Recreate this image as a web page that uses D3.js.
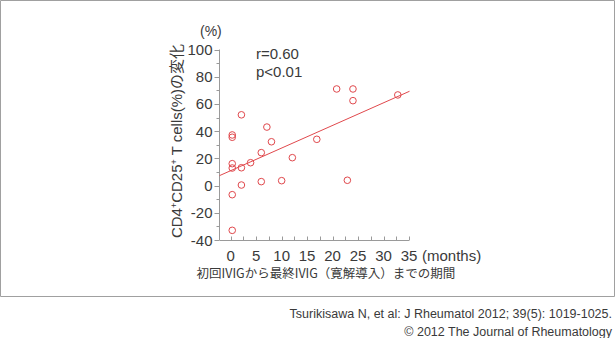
<!DOCTYPE html>
<html><head><meta charset="utf-8">
<script src="https://cdn.jsdelivr.net/npm/d3@7/dist/d3.min.js"></script>
<style>
html,body{margin:0;padding:0;background:#fff;}
svg{display:block;}
text{font-family:"Liberation Sans",Arial,"Noto Sans CJK JP",sans-serif;fill:#3a3a3a;}
.jp{font-family:"Noto Sans CJK JP","Liberation Sans",sans-serif;}
</style></head>
<body>
<script>
// Data
const monthsX = [20.8, 24.0, 24.0, 32.8, 2.1, 0.3, 0.3, 7.1, 8.0, 16.9, 6.0, 12.1, 3.9, 0.3, 0.3, 2.1, 2.1, 6.0, 10.0, 22.9, 0.3, 0.3];
const changeY = [71, 71, 62.4, 66.6, 52, 37.2, 35.5, 43, 32.2, 34, 24.2, 20.5, 16.8, 16.1, 12.9, 13.1, 0.4, 2.9, 3.6, 3.9, -6.7, -32.9];
const fitX = [-2.2, 35.1];
const fitY = [7.3, 69.3];
const xTicks = [0, 5, 10, 15, 20, 25, 30, 35];
const yTicks = [-40, -20, 0, 20, 40, 60, 80, 100];
const xMinorTicks = d3.range(0, 35.01, 2.5);
const yMinorTicks = d3.range(-40, 100.01, 10);
const statLines = ["r=0.60", "p<0.01"];
const xTitle = "初回IVIGから最終IVIG（寛解導入）までの期間";
const citation = ["Tsurikisawa N, et al: J Rheumatol 2012; 39(5): 1019-1025.", "© 2012 The Journal of Rheumatology"];

const W = 616, H = 338;
const svg = d3.select("body").append("svg").attr("width", W).attr("height", H);

// frame
svg.append("path").attr("d", "M0.5,296.5 L0.5,0.5 L614.5,0.5 L614.5,296.5 Z")
  .attr("fill", "none").attr("stroke", "#a0a0a0").attr("stroke-width", 1);

const x = d3.scaleLinear().domain([-2.2, 35]).range([219.5, 409]);
const y = d3.scaleLinear().domain([-40, 100]).range([240, 49.5]);
const axisColor = "#9a9a9a";

// x axis
const gx = svg.append("g").attr("transform", "translate(0,240.5)");
gx.append("line").attr("x1", x(-2.2)).attr("x2", x(35)).attr("stroke", axisColor);
gx.selectAll("line.t").data(xMinorTicks).join("line").attr("class", "t")
  .attr("x1", d => Math.round(x(d)) + 0.5).attr("x2", d => Math.round(x(d)) + 0.5)
  .attr("y1", 0).attr("y2", -4).attr("stroke", axisColor);
gx.selectAll("text").data(xTicks).join("text")
  .attr("x", d => x(d)).attr("y", 20).attr("text-anchor", "middle")
  .style("font-size", "15px").text(d => d);
gx.append("text").attr("x", 422).attr("y", 20).style("font-size", "15px").text("(months)");

// y axis
const gy = svg.append("g").attr("transform", "translate(219.5,0)");
gy.append("line").attr("y1", y(-40)).attr("y2", y(100)).attr("stroke", axisColor);
gy.selectAll("line.t").data(yMinorTicks).join("line").attr("class", "t")
  .attr("y1", d => Math.round(y(d)) + 0.5).attr("y2", d => Math.round(y(d)) + 0.5)
  .attr("x1", 0).attr("x2", d => (d % 20 === 0 ? -5 : -3)).attr("stroke", axisColor);
gy.selectAll("text").data(yTicks).join("text")
  .attr("x", -7).attr("y", d => y(d) + 5.5).attr("text-anchor", "end")
  .style("font-size", "15px").text(d => d);
svg.append("text").attr("x", 200).attr("y", 36).style("font-size", "14px").text("(%)");

// y title
const yt = svg.append("text").attr("transform", "translate(182,141) rotate(-90)")
  .attr("text-anchor", "middle").style("font-size", "15px");
yt.append("tspan").text("CD4");
yt.append("tspan").attr("dy", -5).style("font-size", "9px").text("+");
yt.append("tspan").attr("dy", 5).text("CD25");
yt.append("tspan").attr("dy", -5).style("font-size", "9px").text("+");
yt.append("tspan").attr("dy", 5).text(" T cells(%)");
yt.append("tspan").attr("class", "jp").text("の変化");

// x title
svg.append("text").attr("class", "jp").attr("x", 326).attr("y", 278)
  .attr("text-anchor", "middle").style("font-size", "12.5px").text(xTitle);

// stats
svg.selectAll("text.stat").data(statLines).join("text").attr("class", "stat")
  .attr("x", 256).attr("y", (d, i) => 59 + i * 17.5).style("font-size", "15px").text(d => d);

// fit line
const red = "#e0484c";
svg.append("line").attr("x1", x(fitX[0])).attr("y1", y(fitY[0]))
  .attr("x2", x(fitX[1])).attr("y2", y(fitY[1])).attr("stroke", red).attr("stroke-width", 1);

// points
svg.selectAll("circle").data(monthsX).join("circle")
  .attr("cx", d => x(d)).attr("cy", (d, i) => y(changeY[i])).attr("r", 3.3)
  .attr("fill", "none").attr("stroke", red).attr("stroke-width", 1);

// citation
svg.selectAll("text.cit").data(citation).join("text").attr("class", "cit")
  .attr("x", 612).attr("y", (d, i) => 318 + i * 18).attr("text-anchor", "end")
  .style("font-size", "12.5px").text(d => d);
</script>
</body></html>
